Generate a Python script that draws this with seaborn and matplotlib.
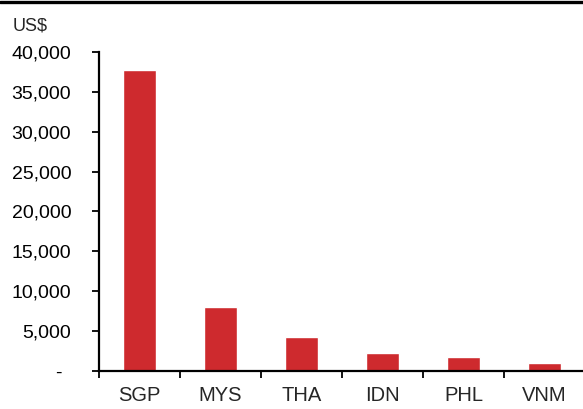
import pandas as pd
import seaborn as sns
import matplotlib.pyplot as plt
from matplotlib.lines import Line2D
from matplotlib.ticker import FixedLocator
import matplotlib.transforms as mtransforms

countries = ['SGP', 'MYS', 'THA', 'IDN', 'PHL', 'VNM']
gdp_per_capita = [37700, 8000, 4250, 2200, 1720, 1040]
y_ticks = [0, 5000, 10000, 15000, 20000, 25000, 30000, 35000, 40000]
y_tick_labels = ['-', '5,000', '10,000', '15,000', '20,000', '25,000',
                 '30,000', '35,000', '40,000']

sns.set_style('white')
plt.rcParams['font.family'] = ['Liberation Sans', 'DejaVu Sans']

data = pd.DataFrame({'country': countries, 'value': gdp_per_capita})

fig = plt.figure(figsize=(5.83, 4.09), dpi=100)
ax = fig.add_axes([99 / 583, 38 / 409, 486 / 583, 319 / 409])

sns.barplot(data=data, x='country', y='value', color='#ce2a2e',
            saturation=1, width=0.4, ax=ax)

ax.set_xlim(-0.5, 5.5)
ax.set_ylim(0, 40000)
ax.set_xlabel('')
ax.set_ylabel('')

# y axis
ax.set_yticks(y_ticks)
ax.set_yticklabels(y_tick_labels, fontsize=14)
ax.tick_params(axis='y', direction='out', length=5, width=1.3, pad=15,
               left=True, colors='black')
# dash for zero sits a bit left of the number column
zero_lbl = ax.get_yticklabels()[0]
zero_lbl.set_transform(zero_lbl.get_transform() +
                       mtransforms.ScaledTranslation(-10 / 100, 0, fig.dpi_scale_trans))

# x axis: labels centred, ticks on category boundaries
ax.tick_params(axis='x', which='major', length=0, pad=11, labelsize=14.5)
ax.xaxis.set_minor_locator(FixedLocator([-0.5, 0.5, 1.5, 2.5, 3.5, 4.5]))
ax.tick_params(axis='x', which='minor', direction='out', length=5, width=1.3,
               bottom=True, colors='black')

for side in ['top', 'right']:
    ax.spines[side].set_visible(False)
for side in ['left', 'bottom']:
    ax.spines[side].set_color('black')
    ax.spines[side].set_linewidth(1.6)

fig.text(13 / 583, (409 - 30) / 409, 'US$', fontsize=13, ha='left', va='baseline')

# black rule across the top of the figure
fig.add_artist(Line2D([0, 1], [1 - 1.5 / 409, 1 - 1.5 / 409], color='black',
                      linewidth=2.4, transform=fig.transFigure))

fig.savefig('out.png', dpi=100)
